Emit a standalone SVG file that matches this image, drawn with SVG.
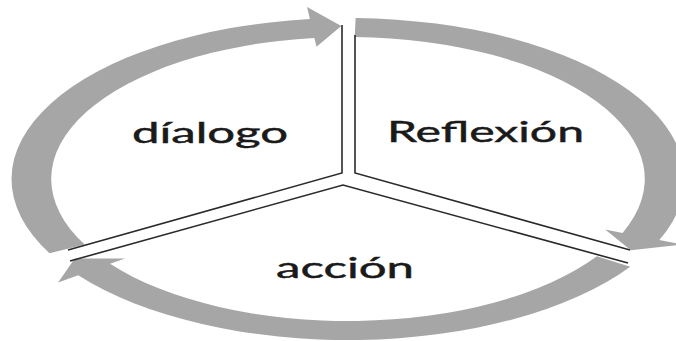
<svg xmlns="http://www.w3.org/2000/svg" width="676" height="341" viewBox="0 0 676 341">
  <style>
    .arc { fill: #a6a6a6; stroke: none; }
    .edge { fill: none; stroke: #2a2a2a; stroke-width: 1.6; stroke-linejoin: miter; }
    .label { font-family: Lato, "Open Sans", "Liberation Sans", sans-serif; font-size: 29px; fill: #1a1a1a; stroke: #1a1a1a; stroke-width: 0.45; }
  </style>
  <rect width="676" height="341" fill="#ffffff"/>

  <!-- cycle arrows: drawn on a unit circle, then stretched horizontally -->
  <g id="connectors" transform="translate(348 179) scale(2.09 1)">
    <path id="arrow-dialogo-reflexion" class="arc"
      d="M -142.81 74.34 A 161 161 0 0 1 -18.23 -159.96 L -19.58 -171.89 L -3.20 -152.97 L -15.06 -132.14 L -16.07 -141.09 A 142 142 0 0 0 -125.96 65.57 Z"/>
    <path id="arrow-reflexion-accion" class="arc"
      d="M 3.65 -160.96 A 161 161 0 0 1 148.96 61.09 L 160.06 65.65 L 135.34 71.36 L 123.05 50.47 L 131.38 53.88 A 142 142 0 0 0 3.22 -141.96 Z"/>
    <path id="arrow-accion-dialogo" class="arc"
      d="M 135.03 87.69 A 161 161 0 0 1 -129.09 96.22 L -138.71 103.39 L -130.73 79.49 L -106.64 79.49 L -113.85 84.86 A 142 142 0 0 0 119.09 77.34 Z"/>
  </g>

  <!-- three segments separated by double edges -->
  <g id="node-dialogo">
    <polyline class="edge" points="342,25 342,173 68,250"/>
    <text class="label" x="132" y="143" textLength="156" lengthAdjust="spacingAndGlyphs">díalogo</text>
  </g>
  <g id="node-reflexion">
    <polyline class="edge" points="355,35 355,173 630,250"/>
    <text class="label" x="387" y="142" textLength="197" lengthAdjust="spacingAndGlyphs">Reflexión</text>
  </g>
  <g id="node-accion">
    <polyline class="edge" points="70,261 343,185 628,263"/>
    <text class="label" x="276" y="278" textLength="138" lengthAdjust="spacingAndGlyphs">acción</text>
  </g>
</svg>
